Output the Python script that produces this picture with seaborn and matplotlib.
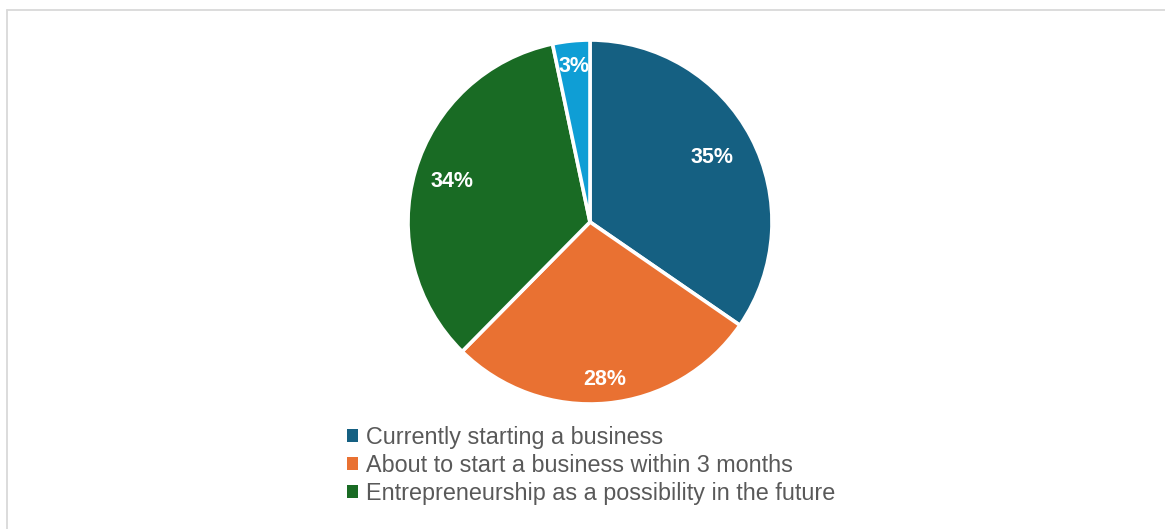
import matplotlib
matplotlib.use("Agg")
import matplotlib.pyplot as plt
from matplotlib.lines import Line2D
import numpy as np
import seaborn as sns

categories = [
    "Currently starting a business",
    "About to start a business within 3 months",
    "Entrepreneurship as a possibility in the future",
    "Other",
]
values = [34.6, 27.8, 34.3, 3.3]
colors = ["#156082", "#E97132", "#196B24", "#0F9ED5"]
label_radius = [0.76, 0.87, 0.79, 0.86]  # data-label placement (style)

sns.set_theme(style="white")
plt.rcParams["font.family"] = ["Liberation Sans", "DejaVu Sans"]

W, H = 1165, 529
fig = plt.figure(figsize=(W / 100, H / 100), dpi=100)
fig.patch.set_facecolor("white")

cx, cy, r = 590, 222, 182
ax = fig.add_axes([(cx - r) / W, (H - cy - r) / H, 2 * r / W, 2 * r / H])
wedges, texts, autotexts = ax.pie(
    values,
    colors=colors,
    startangle=90,
    counterclock=False,
    autopct="%.0f%%",
    pctdistance=0.8,
    wedgeprops=dict(edgecolor="white", linewidth=2.6),
    textprops=dict(color="white", fontsize=15.5, fontweight="bold"),
)
for w, t, rad in zip(wedges, autotexts, label_radius):
    ang = np.deg2rad((w.theta1 + w.theta2) / 2)
    t.set_position((rad * np.cos(ang), rad * np.sin(ang)))
ax.set_xlim(-1, 1)
ax.set_ylim(-1, 1)
ax.set_aspect("equal")
ax.axis("off")

leg = fig.legend(
    wedges[:3],
    categories[:3],
    loc="upper left",
    bbox_to_anchor=(347 / W, 1 - 426 / H),
    frameon=False,
    fontsize=16.8,
    handlelength=0.45,
    handleheight=0.45,
    handletextpad=0.35,
    labelspacing=0.21,
    borderaxespad=0,
    borderpad=0,
)
for t in leg.get_texts():
    t.set_color("#595959")
for h in leg.legend_handles:
    h.set_edgecolor("none")

# chart frame (top and left edges visible)
fig.add_artist(Line2D([6.5 / W, 1.0], [1 - 9.5 / H, 1 - 9.5 / H], color="#d9d9d9", linewidth=1.3, transform=fig.transFigure))
fig.add_artist(Line2D([6.5 / W, 6.5 / W], [0, 1 - 9.5 / H], color="#d9d9d9", linewidth=1.3, transform=fig.transFigure))

fig.savefig("out.png", dpi=100, facecolor="white")
